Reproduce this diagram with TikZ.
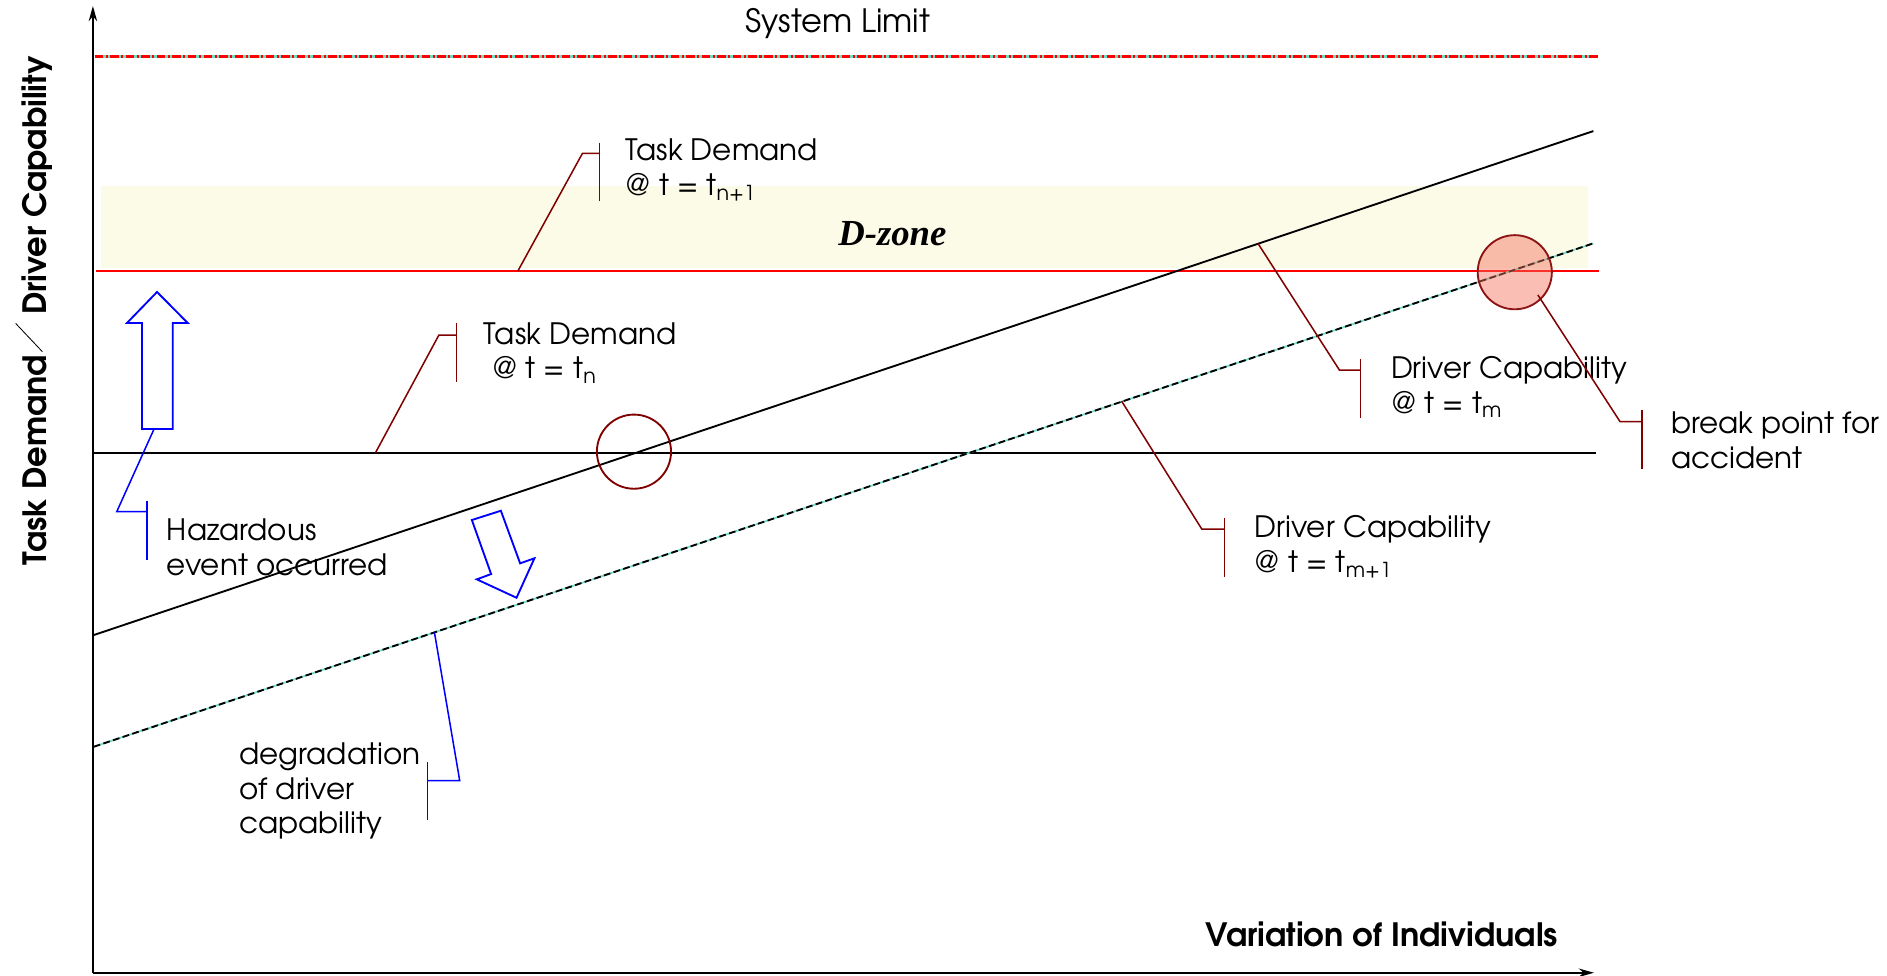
\documentclass[tikz,border=0pt]{standalone}
\usepackage{fontspec}
\setmainfont{texgyreadventor}[Extension=.otf, UprightFont=*-regular, BoldFont=*-bold, ItalicFont=*-italic, BoldItalicFont=*-bolditalic]
\newfontfamily\dzfont{Liberation Serif}
\usetikzlibrary{arrows.meta}
\definecolor{dred}{RGB}{128,0,0}
\definecolor{band}{RGB}{252,251,232}
\definecolor{cyanl}{RGB}{110,220,200}
\definecolor{salmon}{RGB}{245,110,90}
\definecolor{circred}{RGB}{140,20,20}
\newcommand{\mystack}[1]{\begin{tabular}[t]{@{}l@{}}#1\end{tabular}}
\begin{document}
\begin{tikzpicture}[x=0.025cm,y=-0.025cm,
  lbl/.style={font=\fontsize{17.4}{20.6}\selectfont, inner sep=0pt, anchor=base west},
  axlbl/.style={font=\fontsize{19}{23}\selectfont\bfseries, inner sep=0pt, anchor=base west},
  leadr/.style={draw=dred, line width=0.9pt},
  leadb/.style={draw=blue, line width=0.9pt},
  bigline/.style={line width=1.1pt},
  barrow/.style={draw=blue, line width=1.1pt, line join=miter},
]
\useasboundingbox (0,0) rectangle (1568,811);

% D-zone band
\fill[band] (83.8,154.3) rectangle (1319.6,223);

% coordinates of main lines
\coordinate (O) at (77.2,808.3);
\coordinate (ytop) at (77.2,5);
\coordinate (xend) at (1324.5,808.3);
\coordinate (sl1) at (78.6,47.1);
\coordinate (sl2) at (1327.5,47.1);
\coordinate (rl1) at (79.8,225.2);
\coordinate (rl2) at (1328.7,225.2);
\coordinate (hl1) at (77.2,376.2);
\coordinate (hl2) at (1325.9,376.2);
\coordinate (cl1) at (77.9,527.7);
\coordinate (cl2) at (1324,108.9);
\coordinate (dl1) at (77.9,620.5);
\coordinate (dl2) at (1324,202.2);

% system limit
\draw[cyanl, line width=2pt] (sl1) -- (sl2);
\draw[red, line width=1.6pt, dash pattern=on 5pt off 1.5pt on 1.2pt off 1.5pt] (sl1) -- (sl2);
% red task demand line
\draw[red, line width=1.3pt] (rl1) -- (rl2);
% black task demand line
\draw[bigline] (hl1) -- (hl2);
% driver capability (solid)
\draw[bigline] (cl1) -- (cl2);
% driver capability (dashed)
\draw[cyanl, line width=1pt] (dl1) -- (dl2);
\draw[bigline, dash pattern=on 4pt off 2pt] (dl1) -- (dl2);

% axes
\draw[bigline, -{Stealth[length=9pt,width=5pt]}] (O) -- (ytop);
\draw[bigline, -{Stealth[length=9pt,width=5pt]}] (O) -- (xend);

% circles
\coordinate (oc) at (526.8,375.3);
\draw[dred, line width=1.1pt] (oc) circle [radius=0.77cm];
\coordinate (bc) at (1258.7,226.2);
\fill[salmon, fill opacity=0.45] (bc) circle [radius=0.77cm];
\draw[circred, line width=1.1pt] (bc) circle [radius=0.77cm];

% texts
\node[anchor=base west, inner sep=0pt, font=\fontsize{19}{22}\selectfont] (sys) at (619,26.9) {System Limit};
\node[anchor=base, inner sep=0pt, font=\fontsize{21.7}{26}\dzfont\bfseries\itshape] (dz) at (741.5,203.6) {D-zone};
\node[lbl] (tdn1) at (519.4,133.5) {\mystack{Task Demand\\@ t = t\textsubscript{n+1}}};
\node[lbl] (tdn) at (401.8,285.9) {\mystack{Task Demand\\\hspace{0.28em}@ t = t\textsubscript{n}}};
\node[lbl] (haz) at (138.4,449) {\mystack{Hazardous\\event occurred}};
\node[lbl] (deg) at (198.5,635) {\mystack{degradation\\of driver\\capability}};
\node[lbl] (dcm) at (1155.6,314.4) {\mystack{Driver Capability\\@ t = t\textsubscript{m}}};
\node[lbl] (brk) at (1388.4,360.1) {\mystack{break point for\\accident}};
\node[lbl] (dcm1) at (1042.3,446.5) {\mystack{Driver Capability\\@ t = t\textsubscript{m+1}}};
\node[axlbl] (xlab) at (1001.3,786.7) {Variation of Individuals};
\node[axlbl, rotate=90] (ylab1) at (39,470) {Task Demand};
\node[axlbl, rotate=90] (ylab2) at (39,262) {Driver Capability};
\coordinate (sla) at (35.2,292.2);
\coordinate (slb) at (13,268.7);
\draw[line width=0.5pt] (sla) -- (slb);

% leaders
\coordinate (s1) at (430.3,225.2); \coordinate (k1) at (484,127.4); \coordinate (b1) at (498,127.4);
\coordinate (b1t) at (498,118.6); \coordinate (b1b) at (498,167);
\draw[leadr] (s1) -- (k1) -- (b1); \draw[leadr] (b1t) -- (b1b);

\coordinate (s2) at (312,376.2); \coordinate (k2) at (364.7,278.4); \coordinate (b2) at (379.5,278.4);
\coordinate (b2t) at (379.5,268.7); \coordinate (b2b) at (379.5,317.7);
\draw[leadr] (s2) -- (k2) -- (b2); \draw[leadr] (b2t) -- (b2b);

\coordinate (s5) at (1045.5,202.6); \coordinate (k5) at (1113,307.5); \coordinate (b5) at (1130.6,307.5);
\coordinate (b5t) at (1130.6,298.6); \coordinate (b5b) at (1130.6,347);
\draw[leadr] (s5) -- (k5) -- (b5); \draw[leadr] (b5t) -- (b5b);

\coordinate (s6) at (1277.9,245.1); \coordinate (k6) at (1346.2,350.4); \coordinate (b6) at (1364.5,350.4);
\coordinate (b6t) at (1364.5,340.7); \coordinate (b6b) at (1364.5,390);
\draw[leadr] (s6) -- (k6) -- (b6); \draw[leadr] (b6t) -- (b6b);

\coordinate (s7) at (932,333.3); \coordinate (k7) at (998.6,439.6); \coordinate (b7) at (1017.4,439.6);
\coordinate (b7t) at (1017.4,430.7); \coordinate (b7b) at (1017.4,479.2);
\draw[leadr] (s7) -- (k7) -- (b7); \draw[leadr] (b7t) -- (b7b);

\coordinate (s3) at (128,356.5); \coordinate (k3) at (97,425.2); \coordinate (b3) at (122,425.2);
\coordinate (b3t) at (122,416); \coordinate (b3b) at (122,465);
\draw[leadb] (s3) -- (k3) -- (b3); \draw[leadb] (b3t) -- (b3b);

\coordinate (s4) at (361,525.5); \coordinate (k4) at (382,648.7); \coordinate (b4) at (355.4,648.7);
\coordinate (b4t) at (355.4,633); \coordinate (b4b) at (355.4,681.4);
\draw[leadb] (s4) -- (k4) -- (b4); \draw[leadb] (b4t) -- (b4b);

% blue arrows
\draw[barrow] (118,356.5) -- (118,268.4) -- (105.5,268.4) -- (130.5,242.6) -- (156,268.4) -- (143.6,268.4) -- (143.6,356.5) -- cycle;
\draw[barrow] (392.1,432.1) -- (416.2,424.4) -- (432.2,468.1) -- (444.1,463.9) -- (429.2,496.7) -- (396.2,481.4) -- (408.1,477) -- cycle;
\end{tikzpicture}
\end{document}
